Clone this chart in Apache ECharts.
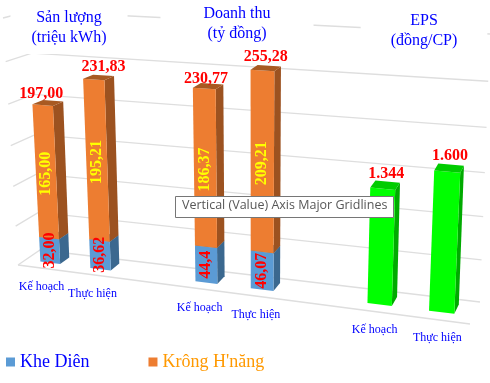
<!DOCTYPE html>
<html>
<head>
<meta charset="utf-8">
<style>html,body{margin:0;padding:0;background:#fff}#c{width:490px;height:383px}</style>
<script src="https://cdn.jsdelivr.net/npm/echarts@6/dist/echarts.min.js"></script>
</head>
<body>
<div id="c"></div>
<script>
// ---- data ----
const slots = ['Kế hoạch','Thực hiện','','Kế hoạch','Thực hiện','','Kế hoạch','Thực hiện'];
const stackSlots = [0, 1, 3, 4];
const epsSlots = [6, 7];
const kheDien = [32.00, 36.62, 44.4, 46.07];
const kheDienLabels = ['32,00', '36,62', '44,4', '46,07'];
const krongHnang = [165.00, 195.21, 186.37, 209.21];
const krongHnangLabels = ['165,00', '195,21', '186,37', '209,21'];
const totalLabels = ['197,00', '231,83', '230,77', '255,28'];
const eps = [1344, 1600];
const epsLabels = ['1.344', '1.600'];
const gridTicks = [0, 50, 100, 150, 200, 250, 300];

// ---- 3D look: projects plot-area fractions onto the perspective box ----
const box = {
  fBL:[18,265], fBR:[470,324], fTL:[3,18],  fTR:[484,46],
  bBL:[40,250], bBR:[480,302], bTL:[30,11], bTR:[490,34]
};
const rX = 1.15, rY = 1.07, depthFront = 0.35, depthBack = 0.78, barFrac = 0.4;
// hand-placed label nudges seen in the reference
const totalNudge = [[-6.5,-2],[5,-1],[-2,-4],[0,0]];
const epsNudge = [[1,1],[1,2]];
const lerp = (a,b,k)=>[a[0]+(b[0]-a[0])*k, a[1]+(b[1]-a[1])*k];
const persp = (v,r)=>v/(v+(1-v)*r);
function warp(u,w,d){
  const t = persp(u,rX), h = persp(w,rY);
  const f = lerp(lerp(box.fBL,box.fBR,t), lerp(box.fTL,box.fTR,t), h);
  const b = lerp(lerp(box.bBL,box.bBR,t), lerp(box.bTL,box.bTR,t), h);
  return lerp(f,b,d);
}
function frac(params, pt){
  const c = params.coordSys;
  return [(pt[0]-c.x)/c.width, (c.y+c.height-pt[1])/c.height];
}
const poly = (points, fill)=>({type:'polygon', shape:{points}, style:{fill, stroke:null}});
const serif = '"Liberation Serif","Times New Roman",serif';
function barShape(params, api, colors){
  const cat = api.value(0), lo = api.value(1), hi = api.value(2);
  const halfW = api.size([1,0])[0]*barFrac/2;
  const a = api.coord([cat, lo]), b = api.coord([cat, hi]);
  const L = frac(params,[a[0]-halfW,a[1]]), R = frac(params,[a[0]+halfW,a[1]]);
  const Lt = frac(params,[b[0]-halfW,b[1]]), Rt = frac(params,[b[0]+halfW,b[1]]);
  const fbl = warp(L[0],L[1],depthFront), fbr = warp(R[0],R[1],depthFront);
  const ftl = warp(Lt[0],Lt[1],depthFront), ftr = warp(Rt[0],Rt[1],depthFront);
  const bbr = warp(R[0],R[1],depthBack), btr = warp(Rt[0],Rt[1],depthBack), btl = warp(Lt[0],Lt[1],depthBack);
  const children = [
    poly([ftr,fbr,bbr,btr], colors.side),
    poly([fbl,fbr,ftr,ftl], colors.front),
    poly([ftl,ftr,btr,btl], colors.top)
  ];
  return {children, fbl, fbr, ftl, ftr, btr, btl};
}
function rotatedText(text, x, y, fill){
  return {type:'text', x, y, rotation:Math.PI/2, z2:5,
    style:{text, fill, font:'bold 16px '+serif, align:'center', verticalAlign:'middle'}};
}
function topText(text, s, nudge){
  const mx = (s.ftl[0]+s.btr[0])/2;
  return {type:'text', x:mx+nudge[0], y:s.ftl[1]-13-nudge[1], z2:6,
    style:{text, fill:'#FF0000', font:'bold 16px '+serif, align:'center', verticalAlign:'middle'}};
}
const orange = {front:'#ED7D31', side:'#9C5220', top:'#A85A22'};
const blue   = {front:'#5B9BD5', side:'#3B688F', top:'#3B688F'};
const green  = {front:'#00FF00', side:'#00AA00', top:'#00CC00'};

function renderGrid(params, api){
  const w = frac(params, api.coord([0, api.value(0)]))[1];
  const pts = [warp(0,w,0), warp(0,w,1), warp(1,w,1)];
  const line = p=>({type:'polyline', shape:{points:p}, style:{stroke:'#DEDEDE', lineWidth:1.3, fill:null}});
  const ch = [line(pts)];
  if (api.value(0) === 0) ch.push(line([warp(0,0,0), warp(1,0,0)]));
  return {type:'group', children:ch};
}
function renderBlue(params, api){
  const s = barShape(params, api, blue);
  const i = params.dataIndex;
  s.children.push(rotatedText(kheDienLabels[i], (s.fbl[0]+s.fbr[0]+s.ftl[0]+s.ftr[0])/4, (s.fbl[1]+s.fbr[1]+s.ftl[1]+s.ftr[1])/4, '#FF0000'));
  return {type:'group', children:s.children};
}
function renderOrange(params, api){
  const s = barShape(params, api, orange);
  const i = params.dataIndex;
  s.children.push(rotatedText(krongHnangLabels[i], (s.fbl[0]+s.fbr[0]+s.ftl[0]+s.ftr[0])/4, (s.fbl[1]+s.fbr[1]+s.ftl[1]+s.ftr[1])/4+2, '#FFFF00'));
  s.children.push(topText(totalLabels[i], s, totalNudge[i]));
  return {type:'group', children:s.children};
}
function renderGreen(params, api){
  const s = barShape(params, api, green);
  s.children.push(topText(epsLabels[params.dataIndex], s, epsNudge[params.dataIndex]));
  return {type:'group', children:s.children};
}
function renderCat(params, api){
  const cat = api.value(0);
  const p = frac(params, api.coord([cat, 0]));
  const f = warp(p[0],0,depthFront);
  return {type:'text', x:f[0]-9+5*p[0], y:f[1]+24+2*p[0],
    style:{text:slots[cat], fill:'#0000FF', font:'12px '+serif, align:'center', verticalAlign:'middle'}};
}

const chart = echarts.init(document.getElementById('c'), null, {renderer:'canvas'});
const titleStyle = {color:'#0000FF', fontFamily:serif, fontSize:16, fontWeight:'normal', lineHeight:20};
chart.setOption({
  animation:false,
  backgroundColor:'#fff',
  grid:{left:0, right:0, top:0, bottom:0},
  xAxis:{type:'category', data:slots, show:false},
  yAxis:[{type:'value', min:0, max:300, show:false},{type:'value', min:0, max:3000, show:false}],
  title:[
    {text:'Sản lượng\n(triệu kWh)', left:48, top:0, textAlign:'center', padding:[8,21,6,21], backgroundColor:'#fff', textStyle:titleStyle},
    {text:'Doanh thu\n(tỷ đồng)', left:194, top:0, textAlign:'center', padding:[4,43,2,43], backgroundColor:'#fff', textStyle:titleStyle},
    {text:'EPS\n(đồng/CP)', left:394, top:0, textAlign:'center', padding:[11,30,4,30], backgroundColor:'#fff', textStyle:titleStyle}
  ],
  legend:{
    left:1, top:348, itemWidth:9, itemHeight:9, itemGap:59, icon:'rect', selectedMode:false,
    data:[
      {name:'Khe Diên', textStyle:{color:'#0000FF', fontFamily:serif, fontSize:18}},
      {name:"Krông H'năng", textStyle:{color:'#FF9900', fontFamily:serif, fontSize:18}}
    ]
  },
  graphic:[
    {type:'rect', z:100, left:175, top:196, shape:{width:218,height:21}, style:{fill:'#fff', stroke:'#767676', lineWidth:1}},
    {type:'text', z:101, left:182, top:199, style:{text:'Vertical (Value) Axis Major Gridlines', fill:'#575757', font:'12.5px "Open Sans",sans-serif'}}
  ],
  series:[
    {type:'custom', name:'grid', silent:true, z:1, renderItem:renderGrid, data:gridTicks.map(v=>[v]), encode:{y:0}},
    {type:'custom', name:'Khe Diên', z:3, itemStyle:{color:'#5B9BD5'}, renderItem:renderBlue,
      data:stackSlots.map((c,i)=>[c,0,kheDien[i]]), encode:{x:0,y:[1,2]}},
    {type:'custom', name:"Krông H'năng", z:3, itemStyle:{color:'#ED7D31'}, renderItem:renderOrange,
      data:stackSlots.map((c,i)=>[c,kheDien[i],kheDien[i]+krongHnang[i]]), encode:{x:0,y:[1,2]}},
    {type:'custom', name:'EPS', z:3, yAxisIndex:1, itemStyle:{color:'#00FF00'}, renderItem:renderGreen,
      data:epsSlots.map((c,i)=>[c,0,eps[i]]), encode:{x:0,y:[1,2]}},
    {type:'custom', name:'labels', z:3, silent:true, renderItem:renderCat,
      data:stackSlots.concat(epsSlots).map(c=>[c]), encode:{x:0}}
  ]
});
</script>
</body>
</html>
